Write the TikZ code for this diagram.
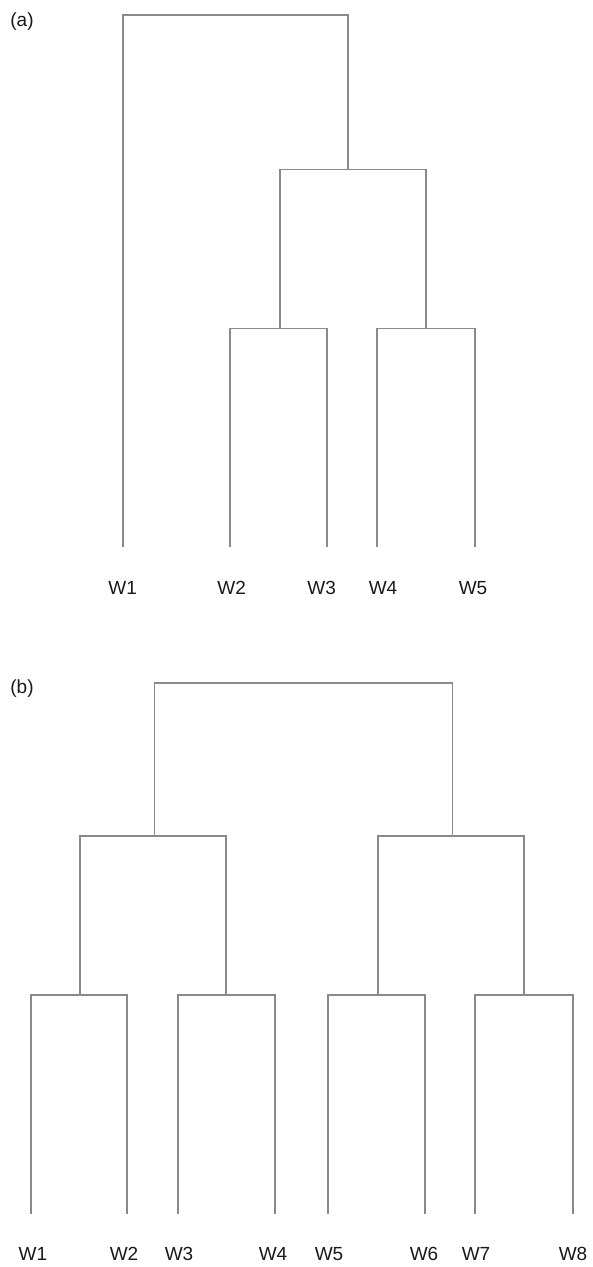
\documentclass[tikz,border=0pt]{standalone}
\usepackage{fontspec}
\setmainfont{Liberation Sans}
\begin{document}
\begin{tikzpicture}[x=1pt,y=-1pt,
  link/.style={draw={rgb,255:red,138;green,138;blue,138}, line width=1.6pt, line join=miter, line cap=rect},
  lbl/.style={font=\fontsize{19}{22}\selectfont, inner sep=0pt, text=black!90},
  tag/.style={font=\fontsize{19}{22}\selectfont, inner sep=0pt, text=black!90}]
\useasboundingbox (0,0) rectangle (593,1267);

% ---------------- (a) ----------------
\node[tag] (taga) at (22,22) {(a)};
\coordinate (a1) at (123,546);
\coordinate (a2) at (229.7,546);
\coordinate (a3) at (327,546);
\coordinate (a4) at (376.7,546);
\coordinate (a5) at (475,546);
\coordinate (a23) at (280,328.3);
\coordinate (a45) at (425.7,328.3);
\coordinate (a2345) at (347.7,169.5);
\coordinate (aroot) at (235,15);

\node[lbl] (la1) at (122.7,588) {W1};
\node[lbl] (la2) at (231.7,588) {W2};
\node[lbl] (la3) at (321.7,588) {W3};
\node[lbl] (la4) at (383,588) {W4};
\node[lbl] (la5) at (473,588) {W5};

\draw[link] (a2) |- (a23) -| (a3);
\draw[link] (a4) |- (a45) -| (a5);
\draw[link] (a23) |- (a2345) -| (a45);
\draw[link] (a1) |- (aroot) -| (a2345);

% ---------------- (b) ----------------
\node[tag] (tagb) at (22,689) {(b)};
\coordinate (b1) at (31,1213);
\coordinate (b2) at (127,1213);
\coordinate (b3) at (178,1213);
\coordinate (b4) at (275,1213);
\coordinate (b5) at (328,1213);
\coordinate (b6) at (425,1213);
\coordinate (b7) at (475,1213);
\coordinate (b8) at (573,1213);
\coordinate (b12) at (80,995);
\coordinate (b34) at (226,995);
\coordinate (b56) at (378,995);
\coordinate (b78) at (524,995);
\coordinate (b1234) at (154.3,836);
\coordinate (b5678) at (452.3,836);
\coordinate (broot) at (300,683);

\node[lbl] (lb1) at (33,1254) {W1};
\node[lbl] (lb2) at (124,1254) {W2};
\node[lbl] (lb3) at (179,1254) {W3};
\node[lbl] (lb4) at (273,1254) {W4};
\node[lbl] (lb5) at (329,1254) {W5};
\node[lbl] (lb6) at (424,1254) {W6};
\node[lbl] (lb7) at (476,1254) {W7};
\node[lbl] (lb8) at (573,1254) {W8};

\draw[link] (b1) |- (b12) -| (b2);
\draw[link] (b3) |- (b34) -| (b4);
\draw[link] (b5) |- (b56) -| (b6);
\draw[link] (b7) |- (b78) -| (b8);
\draw[link] (b12) |- (b1234) -| (b34);
\draw[link] (b56) |- (b5678) -| (b78);
\draw[link] (b1234) |- (broot) -| (b5678);
\end{tikzpicture}
\end{document}
